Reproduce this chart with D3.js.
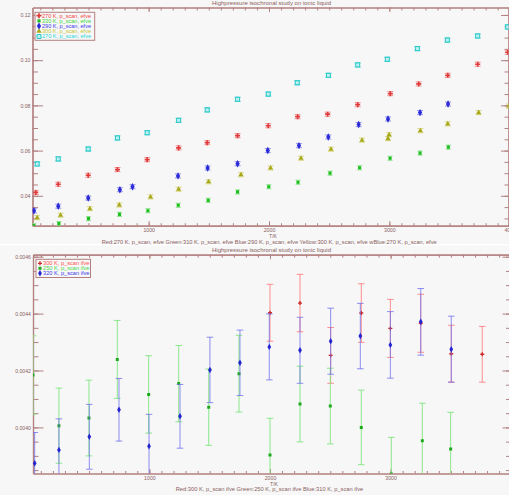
<!DOCTYPE html>
<html><head><meta charset="utf-8">
<script src="https://cdn.jsdelivr.net/npm/d3@7"></script>
<style>
html,body{margin:0;padding:0;background:#fff;}
svg{display:block;}
text{font-family:"Liberation Sans",Arial,sans-serif;}
</style></head><body>
<svg id="chart" width="509" height="495"></svg>
<script>
// ---------- shared text ----------
const titleText = "Highpressure isochronal study on ionic liquid";
const xTitle = "T/K";
const upperXMajor = [1000, 2000, 3000, 4000];
const lowerXMajor = [1000, 2000, 3000];
const xMinorTicks = d3.range(100, 4000, 100);

// ---------- upper panel: efve scans ----------
const upperYMajor = [0.04, 0.06, 0.08, 0.10, 0.12];
const upperYMinor = d3.range(0.03, 0.1201, 0.005);
const upperCaption = "Red:270 K, p_scan, efve  Green:310 K, p_scan, efve  Blue:290 K, p_scan, efve  Yellow:300 K, p_scan, efve  wBlue:270 K, p_scan, efve";

const efveRedT   = [62, 249, 498, 741, 988, 1249, 1487, 1739, 1994, 2238, 2487, 2737, 3008, 3244, 3485, 3734, 3983];
const efveRedV   = [0.0415, 0.0451, 0.0491, 0.0516, 0.0560, 0.0612, 0.0635, 0.0666, 0.0710, 0.0750, 0.0761, 0.0803, 0.0852, 0.0895, 0.0933, 0.0982, 0.1035];
const efveGreenT = [47, 254, 500, 758, 994, 1246, 1495, 1739, 1998, 2241, 2507, 2753, 3006, 3255, 3490];
const efveGreenV = [0.0268, 0.0277, 0.0299, 0.0318, 0.0334, 0.0358, 0.0380, 0.0417, 0.0440, 0.0460, 0.0500, 0.0524, 0.0566, 0.0589, 0.0615];
const efveBlueT  = [47, 249, 498, 761, 866, 1244, 1490, 1739, 1990, 2249, 2493, 2745, 2989, 3255, 3488];
const efveBlueV  = [0.0334, 0.0354, 0.0390, 0.0427, 0.0440, 0.0488, 0.0523, 0.0542, 0.0600, 0.0622, 0.0660, 0.0715, 0.0740, 0.0768, 0.0806];
const efveYellowT = [74, 268, 512, 756, 1016, 1249, 1498, 1767, 2013, 2266, 2515, 2773, 2998, 2989, 3258, 3485, 3742, 3992];
const efveYellowV = [0.0303, 0.0314, 0.0343, 0.0359, 0.0395, 0.0429, 0.0462, 0.0493, 0.0523, 0.0566, 0.0606, 0.0646, 0.0670, 0.0653, 0.0688, 0.0718, 0.0768, 0.0797];
const efveCyanT  = [74, 249, 498, 741, 988, 1249, 1487, 1739, 1994, 2235, 2494, 2737, 2983, 3233, 3482, 3734, 3983];
const efveCyanV  = [0.0541, 0.0563, 0.0607, 0.0656, 0.0679, 0.0734, 0.0780, 0.0827, 0.0850, 0.0900, 0.0933, 0.0979, 0.1004, 0.1051, 0.1089, 0.1107, 0.1147];
const efveErr = 0.0009;

// ---------- lower panel: ifve scans ----------
const lowerYMajor = [0.0040, 0.0042, 0.0044, 0.0046];
const lowerYMinor = d3.range(0.00385, 0.004601, 0.00005);
const lowerCaption = "Red:300 K, p_scan ifve  Green:250 K, p_scan ifve  Blue:310 K, p_scan ifve";

const ifveRedT   = [2000, 2249, 2503, 2757, 2998, 3250, 3503, 3760];
const ifveRedV   = [0.004403, 0.004437, 0.004253, 0.004402, 0.004348, 0.004366, 0.004259, 0.004257];
const ifveRedErr = [0.000100, 0.000101, 0.000098, 0.000103, 0.000102, 0.000102, 0.000100, 0.000098];
const ifveGreenT = [35, 250, 499, 734, 994, 1243, 1492, 1743, 2000, 2249, 2500, 2757, 3006, 3263, 3498];
const ifveGreenV = [0.004184, 0.004006, 0.004033, 0.004239, 0.004116, 0.004154, 0.004071, 0.004189, 0.003903, 0.004082, 0.004075, 0.004000, 0.003836, 0.003953, 0.003924];
const ifveGreenErr = [0.000138, 0.000132, 0.000133, 0.000137, 0.000136, 0.000134, 0.000134, 0.000135, 0.000129, 0.000133, 0.000133, 0.000131, 0.000129, 0.000132, 0.000129];
const ifveBlueT  = [49, 250, 502, 748, 997, 1254, 1502, 1751, 1994, 2249, 2503, 2749, 2998, 3250, 3503];
const ifveBlueV  = [0.003874, 0.003921, 0.003967, 0.004062, 0.003934, 0.004039, 0.004202, 0.004227, 0.004283, 0.004271, 0.004303, 0.004321, 0.004290, 0.004371, 0.004275];
const ifveBlueErr = [0.000108, 0.000109, 0.000114, 0.000110, 0.000112, 0.000112, 0.000115, 0.000115, 0.000116, 0.000116, 0.000116, 0.000115, 0.000117, 0.000117, 0.000116];

// ---------- drawing ----------
const AXIS = "#b38080";
const LABEL = "#8a6262";
const FONT = 5.2;

const svg = d3.select("#chart");
svg.append("rect").attr("width", 509).attr("height", 495).attr("fill", "#f7f7f7");
svg.append("rect").attr("x", 0).attr("y", 244).attr("width", 509).attr("height", 1.5).attr("fill", "#ffffff");

const zip = (xs, ys, es) => xs.map((t, i) => ({t, v: ys[i], e: Array.isArray(es) ? es[i] : es}));

function symbolPath(type, size) {
  return d3.symbol().type(type).size(size)();
}

function drawPanel(p) {
  const g = svg.append("g");
  const {x, y} = p;
  const [x0, x1] = x.range();
  const [yb, yt] = y.range();

  // titles
  g.append("text").attr("x", 212).attr("y", p.titleY).attr("fill", LABEL)
    .attr("font-size", FONT).attr("textLength", 119).attr("lengthAdjust", "spacingAndGlyphs")
    .text(titleText);
  g.append("text").attr("x", p.captionX).attr("y", p.captionY).attr("fill", LABEL)
    .attr("font-size", FONT).attr("textLength", p.captionW).attr("lengthAdjust", "spacingAndGlyphs")
    .text(p.caption);
  g.append("text").attr("x", x(2000)).attr("y", p.xTitleY).attr("fill", LABEL)
    .attr("font-size", FONT).text(xTitle);

  // axes: minor + major ticks, all pointing inward
  const style = sel => {
    sel.attr("font-size", null).attr("font-family", null);
    sel.selectAll("path.domain").attr("stroke", AXIS).attr("stroke-width", 1.2);
    sel.selectAll(".tick line").attr("stroke", AXIS).attr("stroke-width", 1);
    sel.selectAll(".tick text").attr("fill", LABEL).attr("font-size", FONT);
  };
  const add = (axis, tr) => g.append("g").attr("transform", tr).call(axis).call(style);

  add(d3.axisBottom(x).tickValues(xMinorTicks).tickSizeInner(-2.5).tickSizeOuter(0).tickFormat(""), `translate(0,${yb})`);
  add(d3.axisBottom(x).tickValues(p.xMajor).tickSizeInner(-4.5).tickSizeOuter(0).tickPadding(3).tickFormat(d3.format("d")), `translate(0,${yb})`);
  add(d3.axisTop(x).tickValues(xMinorTicks).tickSizeInner(-3).tickSizeOuter(0).tickFormat(""), `translate(0,${yt})`);
  add(d3.axisTop(x).tickValues(p.xMajor).tickSizeInner(-4.5).tickSizeOuter(0).tickFormat(""), `translate(0,${yt})`);
  add(d3.axisLeft(y).tickValues(p.yMinor).tickSizeInner(-5.5).tickSizeOuter(0).tickFormat(""), `translate(${x0},0)`);
  add(d3.axisLeft(y).tickValues(p.yMajor).tickSizeInner(-10.5).tickSizeOuter(0).tickPadding(2).tickFormat(p.yFormat), `translate(${x0},0)`);
  add(d3.axisRight(y).tickValues(p.yMinor).tickSizeInner(-4).tickSizeOuter(0).tickFormat(""), `translate(${x1},0)`);
  add(d3.axisRight(y).tickValues(p.yMajor).tickSizeInner(-7.5).tickSizeOuter(0).tickFormat(""), `translate(${x1},0)`);

  // data area, clipped to the frame
  const clipId = "clip" + p.id;
  g.append("clipPath").attr("id", clipId).append("rect")
    .attr("x", x0).attr("y", yt).attr("width", x1 - x0).attr("height", yb - yt);
  const plot = g.append("g").attr("clip-path", `url(#${clipId})`);

  p.series.forEach(s => {
    const sg = plot.append("g");
    const pts = s.points;
    // error bars
    sg.selectAll("line.eb").data(pts).join("line")
      .attr("x1", d => x(d.t)).attr("x2", d => x(d.t))
      .attr("y1", d => y(d.v - d.e)).attr("y2", d => y(d.v + d.e))
      .attr("stroke", s.bar).attr("stroke-width", 1).attr("stroke-opacity", s.barOpacity);
    [-1, 1].forEach(sgn => {
      sg.selectAll("line.cap" + sgn).data(pts).join("line")
        .attr("x1", d => x(d.t) - s.cap).attr("x2", d => x(d.t) + s.cap)
        .attr("y1", d => y(d.v + sgn * d.e)).attr("y2", d => y(d.v + sgn * d.e))
        .attr("stroke", s.bar).attr("stroke-width", 1).attr("stroke-opacity", s.barOpacity);
    });
    // markers
    sg.selectAll("path.m").data(pts).join("path")
      .attr("transform", d => `translate(${x(d.t)},${y(d.v)})`)
      .attr("d", symbolPath(s.symbol, s.size))
      .attr("fill", s.fill).attr("stroke", s.stroke).attr("stroke-width", s.strokeWidth || 0);
  });

  // legend
  const L = p.legend;
  g.append("rect").attr("x", L.x).attr("y", L.y).attr("width", L.w).attr("height", L.h)
    .attr("fill", "#f7f7f7").attr("stroke", AXIS).attr("stroke-width", 1);
  p.series.forEach((s, i) => {
    const cy = L.y + L.first + i * L.step;
    g.append("path").attr("transform", `translate(${L.x + 4},${cy})`)
      .attr("d", symbolPath(s.symbol, s.size))
      .attr("fill", s.fill).attr("stroke", s.stroke).attr("stroke-width", s.strokeWidth || 0);
    g.append("text").attr("x", L.x + 7).attr("y", cy + 1.8).attr("fill", s.text)
      .attr("font-size", FONT).attr("textLength", L.textW).attr("lengthAdjust", "spacingAndGlyphs")
      .text(s.label);
  });
}

// upper panel
drawPanel({
  id: "U",
  x: d3.scaleLinear().domain([35, 3990]).range([32.5, 508.5]),
  y: d3.scaleLinear().domain([0.02677, 0.1233]).range([225.7, 7.5]),
  xMajor: upperXMajor,
  yMajor: upperYMajor, yMinor: upperYMinor, yFormat: d3.format(".2f"),
  titleY: 5, caption: upperCaption, captionX: 101.7, captionY: 243.5, captionW: 335, xTitleY: 238,
  legend: {x: 35, y: 12.3, w: 59.7, h: 28, first: 3.4, step: 5.2, textW: 49},
  series: [
    {label: "270 K, p_scan, efve", points: zip(efveRedT, efveRedV, efveErr), symbol: d3.symbolCross, size: 14,
     fill: "#e03a3a", stroke: "none", bar: "#f08a8a", barOpacity: 0.9, cap: 3, text: "#f04848"},
    {label: "330 K, p_scan, efve", points: zip(efveGreenT, efveGreenV, efveErr), symbol: d3.symbolSquare, size: 10,
     fill: "#1fbf1f", stroke: "none", bar: "#7fe07f", barOpacity: 0.9, cap: 2.5, text: "#3ad83a"},
    {label: "290 K, p_scan, efve", points: zip(efveBlueT, efveBlueV, efveErr), symbol: d3.symbolDiamond, size: 16,
     fill: "#2b2bd8", stroke: "none", bar: "#8a8af0", barOpacity: 0.9, cap: 3, text: "#3a3aec"},
    {label: "300 K, p_scan, efve", points: zip(efveYellowT, efveYellowV, efveErr), symbol: d3.symbolTriangle, size: 12,
     fill: "#a8a81a", stroke: "none", bar: "#d6d67a", barOpacity: 0.9, cap: 3, text: "#c8c832"},
    {label: "270 K, p_scan, efve", points: zip(efveCyanT, efveCyanV, efveErr), symbol: d3.symbolSquare, size: 16,
     fill: "#bff0f0", stroke: "#25c8c8", strokeWidth: 1, bar: "#25c8c8", barOpacity: 0.9, cap: 3, text: "#2cd6d6"}
  ]
});

// lower panel
drawPanel({
  id: "L",
  x: d3.scaleLinear().domain([35, 3990]).range([33, 510]),
  y: d3.scaleLinear().domain([0.003838, 0.004607]).range([473.5, 254.7]),
  xMajor: lowerXMajor,
  yMajor: lowerYMajor, yMinor: lowerYMinor, yFormat: d3.format(".4f"),
  titleY: 252, caption: lowerCaption, captionX: 175.7, captionY: 491, captionW: 187.6, xTitleY: 486,
  legend: {x: 36, y: 259.3, w: 54.5, h: 18.2, first: 4, step: 5, textW: 46.5},
  series: [
    {label: "300 K, p_scan ifve", points: zip(ifveRedT, ifveRedV, ifveRedErr), symbol: d3.symbolCross, size: 9,
     fill: "#cc2a2a", stroke: "none", bar: "#ff6b6b", barOpacity: 0.75, cap: 3.3, text: "#ff5050"},
    {label: "250 K, p_scan ifve", points: zip(ifveGreenT, ifveGreenV, ifveGreenErr), symbol: d3.symbolSquare, size: 9,
     fill: "#1fa81f", stroke: "none", bar: "#7fe67f", barOpacity: 0.9, cap: 3.3, text: "#4ad84a"},
    {label: "320 K, p_scan ifve", points: zip(ifveBlueT, ifveBlueV, ifveBlueErr), symbol: d3.symbolDiamond, size: 12,
     fill: "#2424d0", stroke: "none", bar: "#6a6aee", barOpacity: 0.75, cap: 3.3, text: "#3a3aec"}
  ]
});
</script>
</body></html>
